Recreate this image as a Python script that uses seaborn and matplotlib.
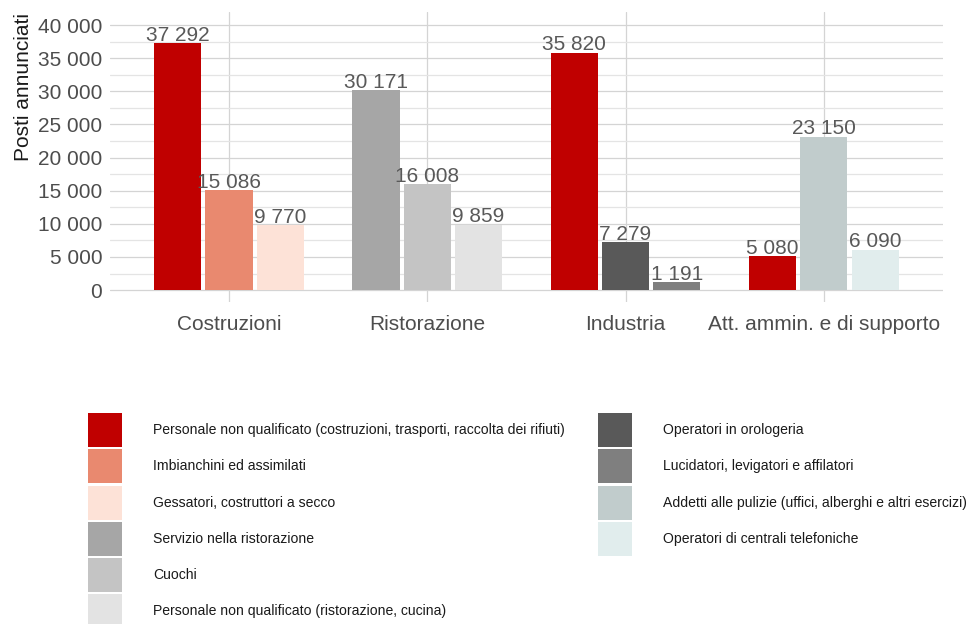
import matplotlib
matplotlib.use("Agg")
import matplotlib.pyplot as plt
import matplotlib.patches as mpatches
from matplotlib.ticker import MultipleLocator, FuncFormatter
import seaborn as sns
import pandas as pd

# ---- data ----
settori = ["Costruzioni", "Ristorazione", "Industria", "Att. ammin. e di supporto"]
professioni = [
    ["Personale non qualificato (costruzioni, trasporti, raccolta dei rifiuti)",
     "Imbianchini ed assimilati", "Gessatori, costruttori a secco"],
    ["Servizio nella ristorazione", "Cuochi",
     "Personale non qualificato (ristorazione, cucina)"],
    ["Personale non qualificato (costruzioni, trasporti, raccolta dei rifiuti)",
     "Operatori in orologeria", "Lucidatori, levigatori e affilatori"],
    ["Personale non qualificato (costruzioni, trasporti, raccolta dei rifiuti)",
     "Addetti alle pulizie (uffici, alberghi e altri esercizi)",
     "Operatori di centrali telefoniche"],
]
posti = [
    [37292, 15086, 9770],
    [30171, 16008, 9859],
    [35820, 7279, 1191],
    [5080, 23150, 6090],
]
legenda_col1 = [
    "Personale non qualificato (costruzioni, trasporti, raccolta dei rifiuti)",
    "Imbianchini ed assimilati",
    "Gessatori, costruttori a secco",
    "Servizio nella ristorazione",
    "Cuochi",
    "Personale non qualificato (ristorazione, cucina)",
]
legenda_col2 = [
    "Operatori in orologeria",
    "Lucidatori, levigatori e affilatori",
    "Addetti alle pulizie (uffici, alberghi e altri esercizi)",
    "Operatori di centrali telefoniche",
]
colori = {
    "Personale non qualificato (costruzioni, trasporti, raccolta dei rifiuti)": "#C00000",
    "Imbianchini ed assimilati": "#E9896F",
    "Gessatori, costruttori a secco": "#FDE2D7",
    "Servizio nella ristorazione": "#A6A6A6",
    "Cuochi": "#C4C4C4",
    "Personale non qualificato (ristorazione, cucina)": "#E3E3E3",
    "Operatori in orologeria": "#595959",
    "Lucidatori, levigatori e affilatori": "#7F7F7F",
    "Addetti alle pulizie (uffici, alberghi e altri esercizi)": "#C1CCCC",
    "Operatori di centrali telefoniche": "#E1EDED",
}

rows = []
for i, s in enumerate(settori):
    for j in range(3):
        rows.append({"settore": s, "slot": j, "professione": professioni[i][j],
                     "posti": posti[i][j]})
df = pd.DataFrame(rows)

# ---- style ----
sns.set_theme(style="whitegrid")
plt.rcParams["font.family"] = ["Liberation Sans", "DejaVu Sans"]

FS = 15
fig = plt.figure(figsize=(9.69, 6.24), dpi=100)
ax = fig.add_axes([0.1135, 0.516, 0.8595, 0.465])

sns.barplot(data=df, x="settore", y="posti", hue="slot", hue_order=[0, 1, 2],
            order=settori, palette=["#888888"] * 3, width=0.775, gap=0.08,
            linewidth=0, legend=False, ax=ax, errorbar=None)

fmt = lambda v: f"{int(round(v)):,}".replace(",", " ")
for j, cont in enumerate(ax.containers):
    for i, bar in enumerate(cont):
        bar.set_facecolor(colori[professioni[i][j]])
    ax.bar_label(cont, labels=[fmt(v) for v in cont.datavalues], padding=-1.2,
                 fontsize=FS, color="#595959")

ax.set_xlim(-0.6, 3.6)
ax.set_ylim(-1800, 42000)
ax.yaxis.set_major_locator(MultipleLocator(5000))
ax.yaxis.set_minor_locator(MultipleLocator(2500))
ax.yaxis.set_major_formatter(FuncFormatter(lambda v, p: fmt(v)))
ax.grid(True, which="major", axis="both", color="#D4D4D4", linewidth=0.9)
ax.grid(True, which="minor", axis="y", color="#E4E4E4", linewidth=0.9)
ax.set_axisbelow(True)
for sp in ax.spines.values():
    sp.set_visible(False)
ax.tick_params(axis="both", which="both", length=0, labelsize=FS,
               labelcolor="#4D4D4D")
ax.tick_params(axis="x", pad=9.5)
ax.tick_params(axis="y", pad=5.5)
ax.set_xlabel("")
ax.set_ylabel("Posti annunciati", fontsize=FS, color="#1A1A1A", loc="top")
ax.yaxis.set_label_coords(-0.0924, 0.997)

# ---- legend (two columns) ----
def make_handles(labels):
    return [mpatches.Patch(facecolor=colori[l], edgecolor="none") for l in labels]

leg_kw = dict(frameon=False, fontsize=10.1, handlelength=2.42, handleheight=3.35,
              handletextpad=2.2, labelspacing=0.165, borderpad=0, borderaxespad=0,
              loc="upper left")
leg1 = fig.legend(make_handles(legenda_col1), legenda_col1,
                  bbox_to_anchor=(88 / 969, 1 - 413 / 624), **leg_kw)
leg2 = fig.legend(make_handles(legenda_col2), legenda_col2,
                  bbox_to_anchor=(598 / 969, 1 - 413 / 624), **leg_kw)
for leg in (leg1, leg2):
    for t in leg.get_texts():
        t.set_color("#1A1A1A")

fig.savefig("out.png", dpi=100, facecolor="white")
